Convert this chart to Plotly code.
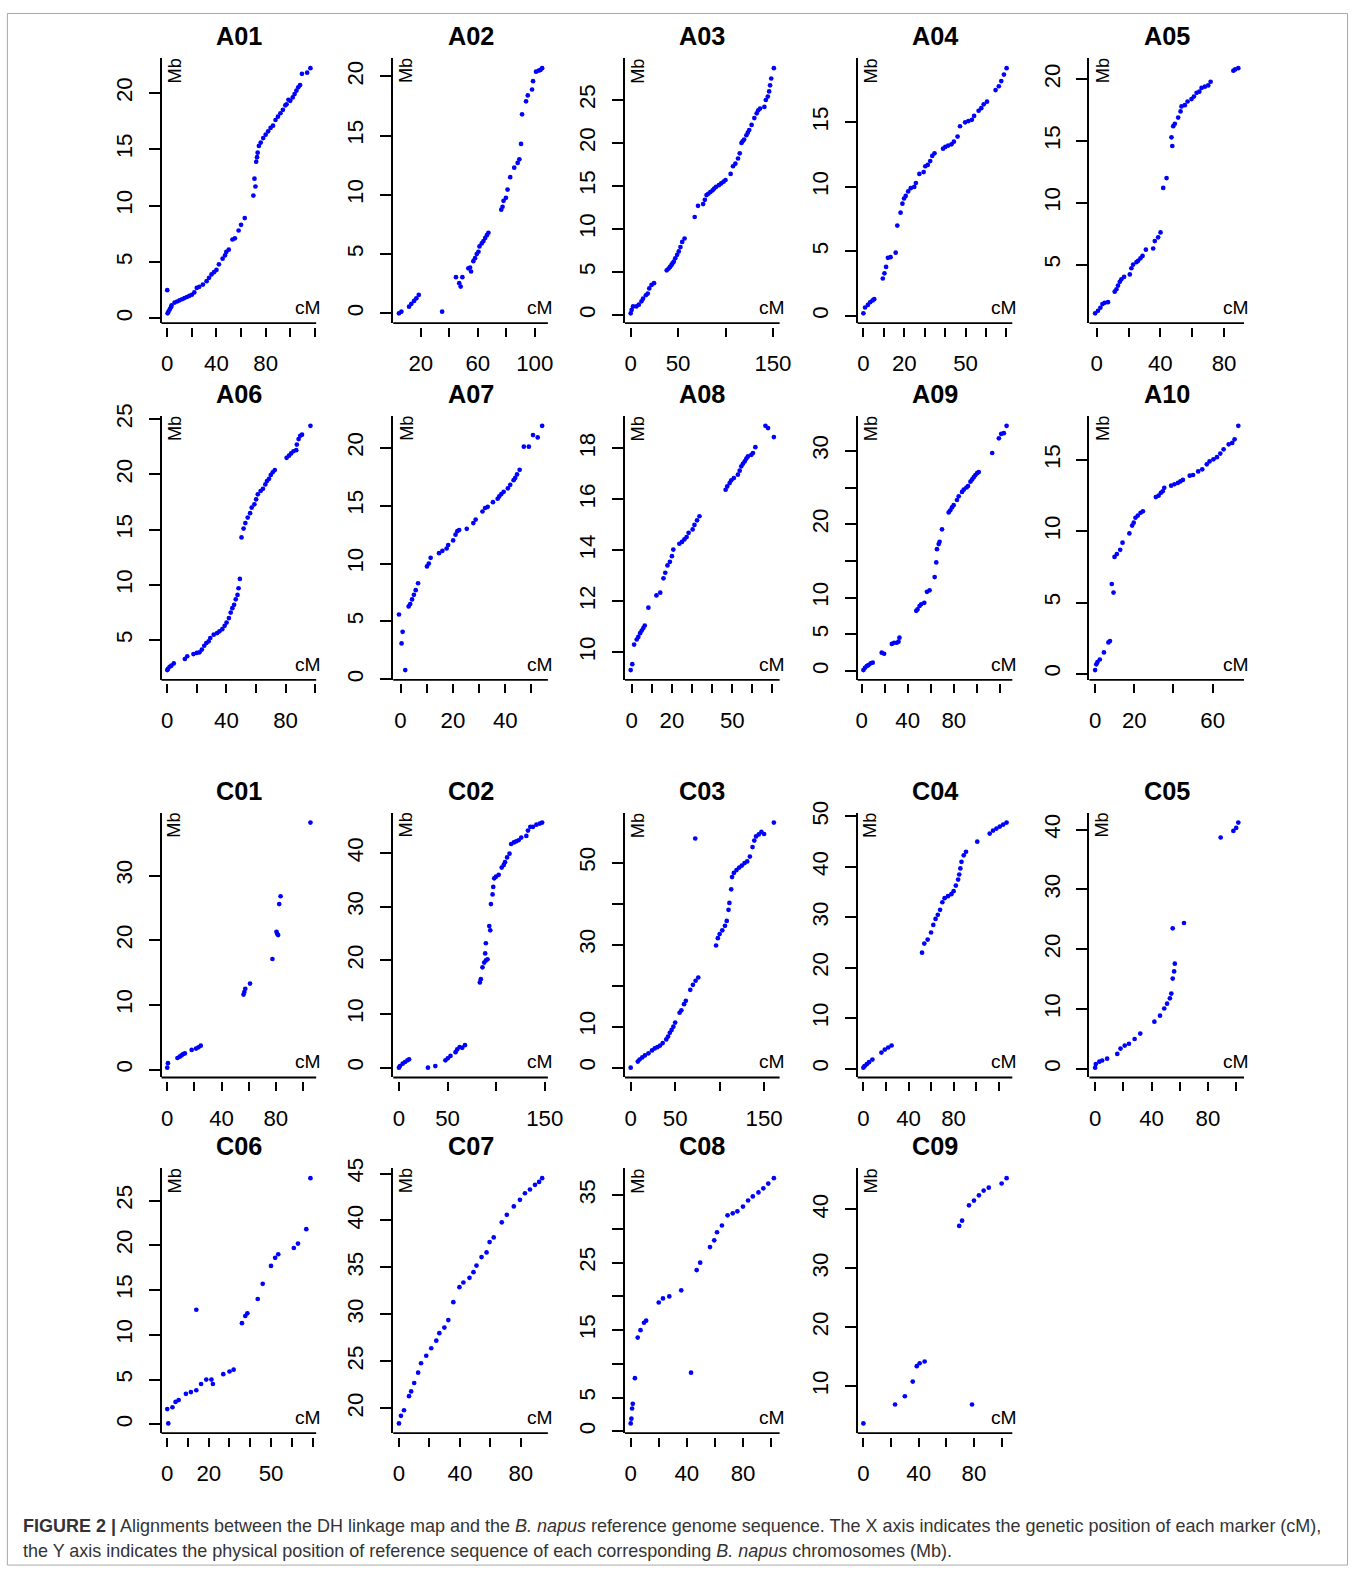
import plotly.graph_objects as go

W, H = 1363, 1571

# ---- data: (genetic position cM, physical position Mb) per chromosome ----
A01 = [(0,2.5),(0.3,0.45),(1,0.6),(2,0.8),(3,1.0),(3.5,1.15),(6,1.4),(8,1.5),(10,1.6),(12,1.7),(14,1.8),(16,1.9),(18,2.0),(20,2.1),(22,2.3),(24,2.7),(26,2.8),(29,3.0),(32,3.3),(34,3.6),(36,3.9),(38,4.1),(40,4.3),(42,4.8),(45,5.3),(47,5.6),(48,5.9),(50,6.1),(53,7.0),(55,7.1),(58,7.8),(60,8.3),(63,8.9),(70,10.9),(70.9,12.4),(71.7,11.7),(72.3,13.9),(73,14.3),(73.5,14.7),(74.5,15.3),(76,15.6),(78,16.0),(80,16.3),(82,16.6),(84,16.9),(86,17.1),(88,17.6),(90,17.9),(92,18.2),(94,18.5),(96,18.9),(97,19.0),(98.5,19.4),(100,19.3),(102,19.6),(103.5,19.9),(105,20.2),(106.5,20.5),(108,20.7),(109.5,21.7),(113.7,21.8),(116.4,22.2)]
A02 = [(4.7,0.0),(6.4,0.14),(11.8,0.56),(13.4,0.8),(15.3,1.05),(16.9,1.27),(18.6,1.55),(35,0.14),(44.7,3.05),(47,2.55),(48,2.26),(49.2,3.05),(53.4,3.8),(54.6,3.87),(55.3,3.53),(56.9,4.4),(58.1,4.66),(59.3,5.0),(60.5,5.2),(61.2,5.65),(62.8,5.9),(64,6.1),(65.2,6.35),(66.4,6.6),(67.5,6.8),(76.5,8.75),(77.4,9.0),(78.1,9.5),(79.8,9.75),(80.9,10.45),(82.8,11.5),(85.6,12.3),(88,12.7),(89.2,13.0),(90.4,14.3),(91.1,16.8),(93.9,17.9),(95.1,18.4),(98.1,18.9),(98.8,19.6),(100.9,20.4),(102.8,20.5),(104,20.55),(105.2,20.7)]
A03 = [(0,0.2),(1,0.6),(2.5,1.0),(6,1.0),(8.6,1.2),(11.4,1.6),(13,1.9),(16,2.3),(18,2.5),(19.6,3.1),(22,3.5),(24.6,3.7),(38,5.2),(40,5.4),(41.5,5.6),(42.9,5.8),(44,6.0),(45.4,6.2),(47,6.6),(49,7.0),(50.7,7.4),(52.5,7.9),(54.3,8.5),(56.8,8.9),(67.5,11.4),(71,12.7),(76.4,12.9),(78.2,13.4),(80,13.95),(81.8,14.1),(84,14.3),(86.4,14.5),(88,14.7),(90,14.9),(93,15.1),(95.4,15.3),(98,15.5),(100,15.7),(105.4,16.4),(107.9,17.3),(110.4,17.6),(113.2,18.2),(115,18.8),(116.8,20.0),(118,20.2),(119.6,20.4),(122,20.9),(123.5,21.2),(125,21.5),(127.5,22.1),(130.4,22.9),(132.9,23.45),(134.5,23.8),(136.4,24.0),(141,24.2),(142.5,25.0),(144.6,25.4),(146,26.0),(147,26.7),(148.2,27.5),(151,28.7)]
A04 = [(0,0.2),(0.8,0.65),(2.2,0.85),(3.3,1.06),(4.5,1.2),(5.3,1.3),(9.5,2.9),(10.3,3.3),(11.1,3.8),(12,4.5),(13.3,4.55),(15.8,4.9),(16.6,7.0),(18.2,8.0),(19.1,8.7),(19.9,9.1),(20.7,9.3),(21.9,9.65),(23.2,9.9),(24.9,10.0),(25.7,10.3),(27.4,11.0),(29.5,11.15),(30.3,11.6),(31.5,11.7),(32.7,12.0),(33.7,12.4),(34.8,12.6),(39,12.96),(40.1,13.1),(41.5,13.2),(43.1,13.3),(44.3,13.5),(46.1,13.9),(47.3,14.7),(49.8,15.0),(51.4,15.1),(53.1,15.2),(54.2,15.5),(56.4,15.9),(57.7,16.1),(58.9,16.4),(60.5,16.6),(64.7,17.5),(66.3,17.8),(67.5,18.2),(68.8,18.7),(70.1,19.2)]
A05 = [(-1,1.05),(0.8,1.26),(2.3,1.5),(3.6,1.8),(5,1.9),(7.1,1.95),(11.3,2.8),(12.4,3.0),(13.4,3.3),(14.5,3.6),(15.5,3.8),(17.2,4.0),(20.8,4.2),(21.8,4.7),(22.9,5.0),(25,5.2),(26,5.3),(27.5,5.5),(28.8,5.7),(30.9,6.2),(35.5,6.3),(36.5,6.9),(38.6,7.2),(40.1,7.6),(41.8,11.2),(43.9,12.0),(47.5,14.6),(47,15.3),(48.1,16.2),(49.1,16.4),(51.2,16.9),(52.7,17.4),(53.3,17.8),(55.4,17.9),(57.1,18.2),(59.6,18.4),(61.1,18.6),(62.8,18.9),(64.5,19.0),(65.9,19.3),(68,19.4),(70.1,19.5),(71.6,19.8),(85.9,20.7),(87,20.8),(89,20.9)]
A06 = [(0,2.3),(0.5,2.4),(1.6,2.6),(2.8,2.7),(4.4,2.9),(11.9,3.3),(13.5,3.55),(17.7,3.75),(20,3.85),(21.8,3.9),(23.4,4.15),(25,4.5),(26.4,4.75),(28,4.9),(29.1,5.2),(31.4,5.5),(33.7,5.65),(35.3,5.8),(37.2,6.0),(38.8,6.3),(40.1,6.6),(41.7,7.0),(42.9,7.5),(44,7.9),(45.2,8.2),(46.3,8.7),(47.5,9.1),(48.2,9.7),(49.1,10.55),(50.2,14.3),(51.6,15.1),(52.8,15.6),(54.4,16.1),(56,16.5),(57.1,17.0),(58.9,17.3),(60.1,17.75),(61.2,18.2),(63.1,18.5),(64.7,18.7),(66.3,19.1),(67.4,19.4),(68.8,19.6),(70,19.95),(71.3,20.2),(72.7,20.4),(80.7,21.5),(82.3,21.7),(83.7,21.9),(85.3,22.1),(87.2,22.2),(87.6,22.7),(88.8,23.2),(89.9,23.5),(91.1,23.6),(96.8,24.4)]
A07 = [(-0.6,5.6),(0.4,3.1),(0.8,4.1),(1.8,0.8),(3.1,6.3),(3.7,6.5),(4.4,6.9),(5.1,7.3),(5.8,7.7),(6.7,8.3),(10.1,9.75),(10.8,10.0),(11.5,10.5),(14.7,10.9),(16,11.1),(17.6,11.3),(18.2,11.6),(20.1,12.0),(21,12.5),(21.7,12.8),(22.4,12.9),(25.3,13.0),(27.8,13.5),(28.7,13.8),(31.3,14.5),(32.3,14.8),(33.3,14.9),(35.3,15.3),(37.1,15.6),(37.7,15.8),(38.5,16.0),(39.4,16.2),(41,16.5),(41.9,16.8),(43.2,17.2),(43.8,17.4),(44.5,17.7),(45.5,18.1),(47.1,20.1),(49,20.1),(50.6,21.1),(52.4,20.9),(54.1,21.9)]
A08 = [(-0.5,9.3),(0.3,9.53),(1.2,10.3),(2.5,10.5),(3.3,10.6),(4.2,10.75),(5.0,10.85),(5.8,10.95),(6.5,11.05),(8.3,11.75),(12.3,12.23),(14.2,12.34),(15.8,12.9),(16.7,13.12),(17.8,13.41),(19,13.55),(20,13.77),(20.7,14.03),(23.7,14.26),(25,14.33),(26.2,14.43),(27.3,14.52),(28.3,14.69),(30.3,14.82),(31.2,15.0),(32.5,15.18),(33.7,15.34),(46.7,16.38),(47.5,16.51),(48.7,16.64),(49.5,16.75),(50.8,16.84),(52.8,16.97),(53.7,17.13),(54.5,17.3),(55.3,17.4),(56.2,17.49),(57,17.6),(57.8,17.69),(59.5,17.75),(60.3,17.82),(61.5,18.05),(66.5,18.89),(67.8,18.8),(70.7,18.45)]
A09 = [(1.5,0.14),(2.9,0.45),(4.4,0.68),(5.8,0.8),(7.8,1.05),(9.6,1.14),(17.4,2.5),(19.5,2.36),(26.2,3.7),(28.2,3.86),(30.5,3.86),(32,4.0),(32.8,4.55),(47.4,8.2),(48.5,8.4),(50.3,8.86),(51.7,9.1),(54.4,9.3),(56.7,10.8),(59,11.0),(63.4,12.8),(64.8,14.8),(65.4,16.6),(66.9,17.3),(67.7,17.6),(69.8,19.3),(75.6,21.6),(77,21.9),(78.5,22.3),(79.9,22.6),(82.8,23.3),(84.3,23.8),(87.2,24.4),(88.7,24.7),(91,25.0),(92.4,25.2),(94.5,25.8),(96,26.1),(97.4,26.4),(98.8,26.7),(100.3,26.95),(101.7,27.1),(113.4,29.7),(119.2,31.7),(121.2,32.3),(123.5,32.4),(125.9,33.4)]
A10 = [(0,0.26),(0.6,0.66),(1.2,0.82),(2.4,1.0),(4.5,1.5),(6.8,2.2),(7.6,2.3),(8.5,6.3),(9.4,5.7),(9.9,8.2),(11.1,8.4),(12.8,8.7),(14,9.2),(17.5,9.85),(18.9,10.4),(19.7,10.6),(20.6,10.95),(21.8,11.1),(23.2,11.3),(24.4,11.4),(31,12.4),(32.4,12.5),(33.6,12.7),(34.5,12.8),(35.3,13.05),(38.8,13.2),(40.5,13.3),(42.3,13.4),(43.5,13.5),(44.8,13.6),(48.3,13.9),(50,13.95),(52.6,14.2),(54.7,14.35),(57,14.7),(58.4,14.9),(60.4,15.05),(62.2,15.2),(63.9,15.45),(65.6,15.75),(68.2,16.1),(70,16.2),(71.2,16.45),(73.1,17.4)]
C01 = [(0,0.3),(0.5,1.0),(7.5,1.8),(9.2,2.0),(10.5,2.2),(11.7,2.4),(13,2.5),(18,3.05),(21.2,3.25),(23,3.45),(24.7,3.7),(56.2,11.6),(56.8,12.0),(57.5,12.5),(61,13.3),(77.5,17.1),(80.5,21.3),(81,21.0),(81.7,20.8),(82.5,25.6),(83.5,26.8),(105.5,38.2)]
C02 = [(0,0),(1,0.3),(3.8,0.75),(6.2,1.06),(8.7,1.37),(10.4,1.55),(29.8,0),(37.4,0.3),(47.8,1.37),(50.2,1.74),(53,2.2),(58.2,2.9),(59.9,3.4),(62.4,3.85),(65.1,3.7),(67.9,4.2),(83.2,15.9),(84.2,16.5),(85.9,18.7),(87.7,19.6),(89.4,20.0),(91.1,20.2),(88.7,21.3),(89.4,23.2),(92.9,26.4),(93.9,25.6),(94.6,30.5),(96.3,32.3),(97,33.7),(98,35.3),(99.8,35.6),(102.6,35.95),(105.7,37.3),(107.8,37.8),(109.1,38.3),(111.2,39.2),(113.7,39.9),(115.4,41.7),(118.2,42.0),(120.6,42.2),(123,42.4),(125.8,42.9),(131,43.2),(132.7,44.2),(135.1,44.9),(137.9,44.9),(141.4,45.3),(144.8,45.5),(147.3,45.7)]
C03 = [(0,0),(8,1.5),(10,2.0),(13,2.5),(16,3.0),(20,3.5),(24,4.2),(27,4.7),(30,5.0),(33,5.4),(36,6.0),(40,6.9),(42,7.6),(44,8.5),(46,9.2),(48,10.0),(50,11.0),(55,13.4),(57,14.0),(60,15.5),(62,16.3),(67,19.0),(70,20.2),(73,21.2),(76,22.0),(72.6,55.9),(96,29.8),(98,31.6),(100,32.6),(103,33.5),(106,34.6),(108,35.8),(110,38.5),(111,40.2),(113,43.5),(114,46.5),(116,47.5),(119,48.2),(122,48.8),(125,49.3),(128,49.9),(131,50.3),(134,51.5),(137,53.8),(139,55.4),(141,56.4),(144,56.9),(147,57.5),(150,57.0),(161,59.8)]
C04 = [(0,0.2),(1,0.5),(3,0.9),(5,1.3),(8,1.8),(16,3.2),(19,3.8),(22,4.2),(25,4.6),(52,23.0),(54,24.8),(57,25.6),(60,27.0),(62,28.5),(64,29.7),(66,30.5),(68,31.5),(70,33.0),(72,33.8),(75,34.2),(78,34.6),(80,35.2),(82,36.3),(84,37.5),(85,38.5),(86,39.7),(87,41.0),(89,42.3),(91,43.0),(101,45.0),(112,46.6),(115,47.2),(118,47.6),(121,48.0),(124,48.4),(127,48.8)]
C05 = [(0,0.2),(0.5,0.8),(3,1.2),(5,1.4),(8.5,1.7),(15.7,2.5),(18,3.4),(21,3.9),(24,4.2),(28,5.0),(32,5.9),(42,7.9),(46,8.9),(49,10.1),(51,10.9),(53,11.8),(54,12.6),(55,15.1),(56,16.3),(56.5,17.6),(55,23.5),(63,24.4),(89,38.7),(98,39.8),(100,40.3),(101.5,41.2)]
C06 = [(0,1.7),(0.5,0.1),(2.5,1.9),(4,2.5),(5.5,2.7),(9,3.4),(11.4,3.6),(14,3.8),(14,12.8),(16.3,4.5),(18.8,5.0),(21.3,5.0),(22,4.5),(27,5.6),(30,5.9),(32,6.1),(36,11.3),(37.6,12.1),(38.6,12.4),(43.6,14.0),(46,15.7),(50,17.7),(52,18.6),(53.5,19.0),(61,19.7),(63,20.2),(67,21.8),(69,27.5)]
C07 = [(0,18.4),(1.3,19.2),(3.3,19.8),(6.6,21.3),(8,21.8),(10,22.7),(12.6,23.8),(14.5,24.8),(17.9,25.6),(21.2,26.4),(24.5,27.2),(26.5,28.0),(29.8,28.6),(32.4,29.4),(35.7,31.3),(39.7,32.9),(42.3,33.4),(46.3,33.9),(48.9,34.5),(50.9,35.2),(54.2,36.1),(57.5,36.6),(59.5,37.7),(62.2,38.2),(67.5,39.8),(70.8,40.6),(75.4,41.5),(79.4,42.2),(82.7,42.9),(86,43.3),(89.3,43.8),(92,44.1),(94,44.5)]
C08 = [(0,1.2),(0.5,1.9),(1,3.4),(1.5,4.1),(3,7.9),(5,13.9),(7,15.0),(9.5,16.1),(11,16.4),(20,19.1),(23,19.7),(27.5,20.0),(36,20.9),(43,8.7),(47,23.9),(49.5,25.0),(56.5,27.3),(59.5,28.3),(61.5,29.5),(65,30.5),(69,32.0),(72.7,32.3),(76,32.6),(80,33.3),(83.6,34.2),(87,34.8),(91,35.4),(94.5,36.0),(98,36.7),(102,37.5)]
C09 = [(0,3.7),(22.9,6.9),(30,8.3),(35.7,10.8),(38.6,13.4),(40.7,13.9),(44.3,14.2),(69.3,37.2),(71.4,38.1),(76.4,40.7),(78.6,6.9),(80,41.5),(83.6,42.4),(87,43.2),(90.7,43.7),(100,44.4),(103.6,45.3)]

CHROMS = ["A01","A02","A03","A04","A05","A06","A07","A08","A09","A10",
          "C01","C02","C03","C04","C05","C06","C07","C08","C09"]
POINTS = {"A01":A01,"A02":A02,"A03":A03,"A04":A04,"A05":A05,"A06":A06,"A07":A07,
          "A08":A08,"A09":A09,"A10":A10,"C01":C01,"C02":C02,"C03":C03,"C04":C04,
          "C05":C05,"C06":C06,"C07":C07,"C08":C08,"C09":C09}

# ---- axis ticks and the labels that are actually printed ----
X_TICKS = {
    "A01":[0,20,40,60,80,100,120], "A02":[20,40,60,80,100], "A03":[0,50,100,150],
    "A04":[0,10,20,30,40,50,60,70], "A05":[0,20,40,60,80], "A06":[0,20,40,60,80,100],
    "A07":[0,10,20,30,40,50], "A08":[0,10,20,30,40,50,60,70], "A09":[0,20,40,60,80,100,120],
    "A10":[0,20,40,60], "C01":[0,20,40,60,80,100], "C02":[0,50,100,150],
    "C03":[0,50,100,150], "C04":[0,20,40,60,80,100,120], "C05":[0,20,40,60,80,100],
    "C06":[0,10,20,30,40,50,60,70], "C07":[0,20,40,60,80], "C08":[0,20,40,60,80,100],
    "C09":[0,20,40,60,80,100]}
X_LABELS = {
    "A01":[0,40,80], "A02":[20,60,100], "A03":[0,50,150], "A04":[0,20,50], "A05":[0,40,80],
    "A06":[0,40,80], "A07":[0,20,40], "A08":[0,20,50], "A09":[0,40,80], "A10":[0,20,60],
    "C01":[0,40,80], "C02":[0,50,150], "C03":[0,50,150], "C04":[0,40,80], "C05":[0,40,80],
    "C06":[0,20,50], "C07":[0,40,80], "C08":[0,40,80], "C09":[0,40,80]}
Y_TICKS = {
    "A01":[0,5,10,15,20], "A02":[0,5,10,15,20], "A03":[0,5,10,15,20,25], "A04":[0,5,10,15],
    "A05":[5,10,15,20], "A06":[5,10,15,20,25], "A07":[0,5,10,15,20], "A08":[10,12,14,16,18],
    "A09":[0,5,10,15,20,25,30], "A10":[0,5,10,15], "C01":[0,10,20,30], "C02":[0,10,20,30,40],
    "C03":[0,10,20,30,40,50], "C04":[0,10,20,30,40,50], "C05":[0,10,20,30,40],
    "C06":[0,5,10,15,20,25], "C07":[20,25,30,35,40,45], "C08":[0,5,10,15,20,25,30,35],
    "C09":[10,20,30,40]}
Y_LABELS = {
    "A09":[0,5,10,20,30], "C03":[0,10,30,50], "C08":[0,5,15,25,35]}

CAPTION_1 = ("<b>FIGURE 2 |</b> Alignments between the DH linkage map and the <i>B. napus</i> "
             "reference genome sequence. The X axis indicates the genetic position of each marker (cM),")
CAPTION_2 = ("the Y axis indicates the physical position of reference sequence of each corresponding "
             "<i>B. napus</i> chromosomes (Mb).")

# ---- layout geometry, in pixels of the target picture ----
COL_LEFT = [162, 393.5, 625, 857.5, 1089]
PANEL_W = 154.5
ROW_TOP = [57, 415, 812, 1168]
ROW_BOTTOM = [322, 679, 1077, 1433]

# The captured page is drawn slightly shrunk and shifted; map target pixels
# to figure pixels so the final picture lands where intended.
AX, BX = 0.9866, 2.63
AY, BY = 0.9913, 11.6


def fx(px):
    return (px - BX) / AX


def fy(py):
    return (py - BY) / AY


FS = 2.0 / (AX + AY)          # font compensation
FONT = "Liberation Sans, Arial, Helvetica, sans-serif"
LW = 1.8

fig = go.Figure()
layout = {}
shapes = []
annotations = []


def r_range(vals):
    lo, hi = min(vals), max(vals)
    d = hi - lo
    return [lo - 0.04 * d, hi + 0.04 * d]


for i, name in enumerate(CHROMS):
    if i < 10:
        row, col = i // 5, i % 5
    else:
        row, col = 2 + (i - 10) // 5, (i - 10) % 5
    k = i + 1
    sfx = "" if k == 1 else str(k)
    xs = [p[0] for p in POINTS[name]]
    ys = [p[1] for p in POINTS[name]]
    fig.add_trace(go.Scatter(
        x=xs, y=ys, mode="markers",
        marker=dict(color="#0000ff", size=4.7, line=dict(width=0)),
        xaxis="x" + sfx, yaxis="y" + sfx, showlegend=False, hoverinfo="x+y"))

    x0 = fx(COL_LEFT[col]) / W
    x1 = fx(COL_LEFT[col] + PANEL_W) / W
    yb = 1 - fy(ROW_BOTTOM[row]) / H
    yt = 1 - fy(ROW_TOP[row]) / H

    xl = X_LABELS[name]
    ylab = Y_LABELS.get(name, Y_TICKS[name])
    layout["xaxis" + sfx] = dict(
        domain=[x0, x1], range=r_range(xs), anchor="free", position=yb - 3.5 / H,
        tickmode="array", tickvals=X_TICKS[name],
        ticktext=[str(t) if t in xl else "" for t in X_TICKS[name]],
        ticks="outside", ticklen=9, tickwidth=LW, tickcolor="black",
        showline=False, showgrid=False, zeroline=False,
        tickfont=dict(family=FONT, size=22 * FS, color="black"),
        ticklabelstandoff=8, fixedrange=True)
    layout["yaxis" + sfx] = dict(
        domain=[yb, yt], range=r_range(ys), anchor="x" + sfx,
        tickmode="array", tickvals=Y_TICKS[name],
        ticktext=[str(t) if t in ylab else "" for t in Y_TICKS[name]],
        ticks="outside", ticklen=11, tickwidth=LW, tickcolor="black",
        showline=True, linewidth=LW, linecolor="black",
        showgrid=False, zeroline=False, tickangle=-90,
        tickfont=dict(family=FONT, size=22 * FS, color="black"),
        ticklabelstandoff=8, fixedrange=True)

    # bottom line of the L-shaped frame
    shapes.append(dict(type="line", xref="x" + sfx + " domain", yref="y" + sfx + " domain",
                       x0=0, x1=1, y0=0, y1=0, line=dict(color="black", width=LW)))
    # title
    annotations.append(dict(text="<b>" + name + "</b>", xref="x" + sfx + " domain",
                            yref="y" + sfx + " domain", x=0.5, y=1, yshift=22,
                            xanchor="center", yanchor="middle", showarrow=False,
                            font=dict(family=FONT, size=25 * FS, color="black")))
    # Mb label (rotated, at top of y axis)
    annotations.append(dict(text="Mb", xref="x" + sfx + " domain", yref="y" + sfx + " domain",
                            x=0, y=1, xshift=1, yshift=2, xanchor="left", yanchor="top",
                            textangle=-90, showarrow=False,
                            font=dict(family=FONT, size=18 * FS, color="black")))
    # cM label (bottom right)
    annotations.append(dict(text="cM", xref="x" + sfx + " domain", yref="y" + sfx + " domain",
                            x=1, y=0, xshift=7, yshift=3, xanchor="right", yanchor="bottom",
                            showarrow=False, font=dict(family=FONT, size=19 * FS, color="black")))

# outer frame (clamped to the drawable page)
fl, fr = max(fx(8), 0.5), min(fx(1355), W - 0.5)
ft, fb = max(fy(7), 0.5), min(fy(1565), H - 0.5)
shapes.append(dict(type="rect", xref="paper", yref="paper",
                   x0=fl / W, x1=fr / W, y0=1 - fb / H, y1=1 - ft / H,
                   line=dict(color="#a8a8a8", width=1)))

annotations.append(dict(text=CAPTION_1, xref="paper", yref="paper", x=fx(22) / W,
                        y=1 - fy(1526) / H, xanchor="left", yanchor="middle",
                        showarrow=False, align="left",
                        font=dict(family=FONT, size=17.8 * FS, color="#333333")))
annotations.append(dict(text=CAPTION_2, xref="paper", yref="paper", x=fx(22) / W,
                        y=1 - fy(1551) / H, xanchor="left", yanchor="middle",
                        showarrow=False, align="left",
                        font=dict(family=FONT, size=17.8 * FS, color="#333333")))

fig.update_layout(
    width=W, height=H, autosize=False,
    margin=dict(l=0, r=0, t=0, b=0),
    paper_bgcolor="white", plot_bgcolor="white",
    shapes=shapes, annotations=annotations, showlegend=False,
    **layout)

PIN_PAGE = (
    "var gd=document.getElementById('{plot_id}');"
    "document.documentElement.style.margin='0';document.documentElement.style.padding='0';"
    "document.documentElement.style.overflow='hidden';"
    "document.body.style.margin='0';document.body.style.padding='0';"
    "document.body.style.overflow='hidden';"
    "gd.style.position='fixed';gd.style.left='0px';gd.style.top='0px';"
)

fig.write_html("out.html", config={"displayModeBar": False}, post_script=PIN_PAGE)
